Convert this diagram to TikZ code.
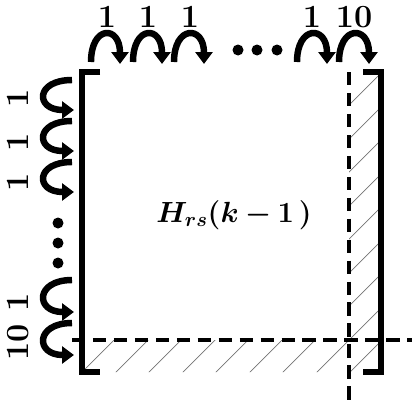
\documentclass[tikz,border=0pt]{standalone}
\usepackage{amsmath}
\usepackage{bm}
\usepackage{tikz}
\usetikzlibrary{arrows.meta}
\tikzset{
  hop/.style={line width=4.6pt, draw=black, -{Triangle[width=12pt,length=8.5pt]}},
  bracket/.style={line width=4.2pt, draw=black, line cap=butt, line join=miter},
  cut/.style={line width=2.6pt, draw=black, dash pattern=on 9.5pt off 5.4pt},
  hatch/.style={line width=0.5pt, draw=black!55},
  dot/.style={fill=black},
  count/.style={font=\fontsize{23}{27}\selectfont\bfseries, inner sep=0pt},
  mainlabel/.style={font=\fontsize{21}{25}\selectfont, inner sep=0pt},
}

\begin{document}
\begin{tikzpicture}[x=0.025cm, y=-0.025cm]
\useasboundingbox (0,0) rectangle (412,401);
\begin{scope}
\clip (82,340) -| (349,70) -| (380,372) -| cycle;
\draw[hatch] (54,400) -- (414,40);
\draw[hatch] (88,400) -- (448,40);
\draw[hatch] (121,400) -- (481,40);
\draw[hatch] (155,400) -- (515,40);
\draw[hatch] (188,400) -- (548,40);
\draw[hatch] (222,400) -- (582,40);
\draw[hatch] (255,400) -- (615,40);
\draw[hatch] (289,400) -- (649,40);
\draw[hatch] (322,400) -- (682,40);
\draw[hatch] (356,400) -- (716,40);
\end{scope}
\draw[cut] (349,72) -- (349,400);
\draw[cut] (72,340) -- (412,340);
\draw[bracket] (100,72) -- (82,72) -- (82,372) -- (100,372);
\draw[bracket] (363,72) -- (381,72) -- (381,372) -- (363,372);
\draw[hop] (91,62) .. controls (91,25) and (120,25) .. (120,64);
\draw[hop] (133,62) .. controls (133,25) and (162,25) .. (162,64);
\draw[hop] (174,62) .. controls (174,25) and (204,25) .. (204,64);
\draw[hop] (297,62) .. controls (297,25) and (327,25) .. (327,64);
\draw[hop] (339,62) .. controls (339,25) and (369,25) .. (369,64);
\draw[hop] (72,80) .. controls (35,80) and (35,110) .. (74,110);
\draw[hop] (72,121) .. controls (35,121) and (35,151) .. (74,151);
\draw[hop] (72,162) .. controls (35,162) and (35,192) .. (74,192);
\draw[hop] (72,280) .. controls (35,280) and (35,312) .. (74,312);
\draw[hop] (72,323) .. controls (35,323) and (35,355) .. (74,355);
\fill[dot] (238,50) circle (5.5);
\fill[dot] (257,50) circle (5.5);
\fill[dot] (277,50) circle (5.5);
\fill[dot] (58,223) circle (5.5);
\fill[dot] (58,243) circle (5.5);
\fill[dot] (58,263) circle (5.5);
\node[count] (top1) at (107,17) {1};
\node[count] (top2) at (148,17) {1};
\node[count] (top3) at (190,17) {1};
\node[count] (top4) at (312,17) {1};
\node[count] (top5) at (354,17) {10};
\node[count, rotate=90] (side1) at (18,98) {1};
\node[count, rotate=90] (side2) at (18,142) {1};
\node[count, rotate=90] (side3) at (18,182) {1};
\node[count, rotate=90] (side4) at (18,302) {1};
\node[count, rotate=90] (side5) at (18,342) {10};
\node[mainlabel] (block) at (234,215) {$\bm{H_{rs}(k-1\,)}$};
\end{tikzpicture}
\end{document}
